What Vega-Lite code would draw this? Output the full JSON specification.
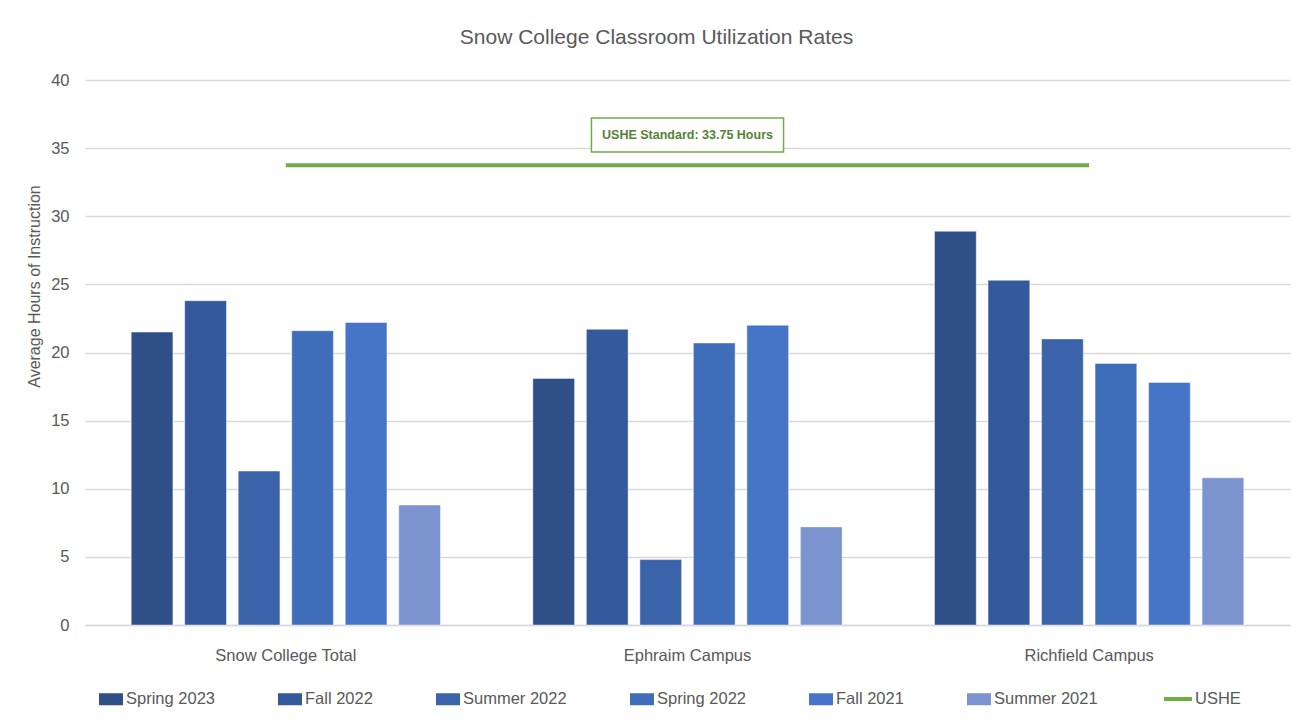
{
  "$schema": "https://vega.github.io/schema/vega-lite/v6.json",
  "width": 1205,
  "height": 545,
  "autosize": "none",
  "padding": {"left": 85, "top": 80, "right": 17, "bottom": 101},
  "background": "white",
  "config": {
    "view": {"stroke": null},
    "font": "Liberation Sans"
  },
  "title": {
    "text": "Snow College Classroom Utilization Rates",
    "fontSize": 21,
    "fontWeight": "normal",
    "color": "#595959",
    "offset": 24,
    "dx": -31
  },
  "datasets": {
    "bars": [
      {"campus": "Snow College Total", "term": "Spring 2023", "hours": 21.5},
      {"campus": "Snow College Total", "term": "Fall 2022", "hours": 23.8},
      {"campus": "Snow College Total", "term": "Summer 2022", "hours": 11.3},
      {"campus": "Snow College Total", "term": "Spring 2022", "hours": 21.6},
      {"campus": "Snow College Total", "term": "Fall 2021", "hours": 22.2},
      {"campus": "Snow College Total", "term": "Summer 2021", "hours": 8.8},
      {"campus": "Ephraim Campus", "term": "Spring 2023", "hours": 18.1},
      {"campus": "Ephraim Campus", "term": "Fall 2022", "hours": 21.7},
      {"campus": "Ephraim Campus", "term": "Summer 2022", "hours": 4.8},
      {"campus": "Ephraim Campus", "term": "Spring 2022", "hours": 20.7},
      {"campus": "Ephraim Campus", "term": "Fall 2021", "hours": 22.0},
      {"campus": "Ephraim Campus", "term": "Summer 2021", "hours": 7.2},
      {"campus": "Richfield Campus", "term": "Spring 2023", "hours": 28.9},
      {"campus": "Richfield Campus", "term": "Fall 2022", "hours": 25.3},
      {"campus": "Richfield Campus", "term": "Summer 2022", "hours": 21.0},
      {"campus": "Richfield Campus", "term": "Spring 2022", "hours": 19.2},
      {"campus": "Richfield Campus", "term": "Fall 2021", "hours": 17.8},
      {"campus": "Richfield Campus", "term": "Summer 2021", "hours": 10.8}
    ],
    "ushe": [
      {"campus": "Snow College Total", "series": "USHE", "hours": 33.75},
      {"campus": "Ephraim Campus", "series": "USHE", "hours": 33.75},
      {"campus": "Richfield Campus", "series": "USHE", "hours": 33.75}
    ],
    "label": [
      {"campus": "Ephraim Campus", "hours": 35.96, "text": "USHE Standard: 33.75 Hours"}
    ]
  },
  "layer": [
    {
      "data": {"name": "bars"},
      "mark": {"type": "bar", "stroke": "#ffffff", "strokeOpacity": 0.45, "strokeWidth": 1},
      "encoding": {
        "x": {
          "field": "campus",
          "type": "nominal",
          "sort": ["Snow College Total", "Ephraim Campus", "Richfield Campus"],
          "scale": {"paddingInner": 0.23, "paddingOuter": 0.115},
          "title": null,
          "axis": {
            "labelAngle": 0,
            "labelFontSize": 16.5,
            "labelColor": "#595959",
            "labelPadding": 22,
            "ticks": false,
            "domain": true,
            "domainColor": "#d9d9d9",
            "domainWidth": 1.3
          }
        },
        "xOffset": {
          "field": "term",
          "type": "nominal",
          "sort": ["Spring 2023", "Fall 2022", "Summer 2022", "Spring 2022", "Fall 2021", "Summer 2021"],
          "scale": {"paddingInner": 0.22, "paddingOuter": 0}
        },
        "y": {
          "field": "hours",
          "type": "quantitative",
          "scale": {"domain": [0, 40]},
          "title": "Average Hours of Instruction",
          "axis": {
            "values": [0, 5, 10, 15, 20, 25, 30, 35, 40],
            "labelFontSize": 16.5,
            "labelColor": "#595959",
            "labelPadding": 16,
            "ticks": false,
            "domain": false,
            "gridColor": "#d9d9d9",
            "gridWidth": 1.3,
            "titleFontSize": 16,
            "titleFontWeight": "normal",
            "titleColor": "#595959",
            "titlePadding": 8,
            "titleY": 206
          }
        },
        "color": {
          "field": "term",
          "type": "nominal",
          "scale": {
            "domain": ["Spring 2023", "Fall 2022", "Summer 2022", "Spring 2022", "Fall 2021", "Summer 2021"],
            "range": ["#2e4f88", "#32599b", "#3a63aa", "#406dba", "#4675c8", "#7b93ce"]
          },
          "legend": {
            "title": null,
            "orient": "none",
            "legendX": 14,
            "legendY": 607,
            "direction": "horizontal",
            "columns": 6,
            "columnPadding": 63,
            "symbolType": "M-1,-0.5H1V0.5H-1Z",
            "symbolSize": 576,
            "symbolStrokeWidth": 0,
            "symbolOpacity": 1,
            "labelFontSize": 16.5,
            "labelColor": "#595959",
            "labelOffset": 3
          }
        }
      }
    },
    {
      "data": {"name": "ushe"},
      "mark": {"type": "line", "strokeWidth": 4},
      "encoding": {
        "x": {"field": "campus", "type": "nominal", "sort": ["Snow College Total", "Ephraim Campus", "Richfield Campus"]},
        "y": {"field": "hours", "type": "quantitative"},
        "stroke": {
          "field": "series",
          "type": "nominal",
          "scale": {"domain": ["USHE"], "range": ["#70ad47"]},
          "legend": {
            "title": null,
            "orient": "none",
            "legendX": 1077,
            "legendY": 603,
            "direction": "horizontal",
            "symbolType": "stroke",
            "symbolSize": 784,
            "symbolStrokeWidth": 4,
            "labelFontSize": 16.5,
            "labelColor": "#595959",
            "labelOffset": 1
          }
        }
      }
    },
    {
      "data": {"name": "label"},
      "mark": {"type": "point", "shape": "M-5.65,-1H5.65V1H-5.65Z", "size": 1156, "filled": true, "fill": "white", "stroke": "#70ad47", "strokeWidth": 1.5, "opacity": 1},
      "encoding": {
        "x": {"field": "campus", "type": "nominal", "sort": ["Snow College Total", "Ephraim Campus", "Richfield Campus"]},
        "y": {"field": "hours", "type": "quantitative"}
      }
    },
    {
      "data": {"name": "label"},
      "mark": {"type": "text", "fontSize": 12.5, "fontWeight": "bold", "color": "#548235"},
      "encoding": {
        "x": {"field": "campus", "type": "nominal", "sort": ["Snow College Total", "Ephraim Campus", "Richfield Campus"]},
        "y": {"field": "hours", "type": "quantitative"},
        "text": {"field": "text"}
      }
    }
  ]
}
